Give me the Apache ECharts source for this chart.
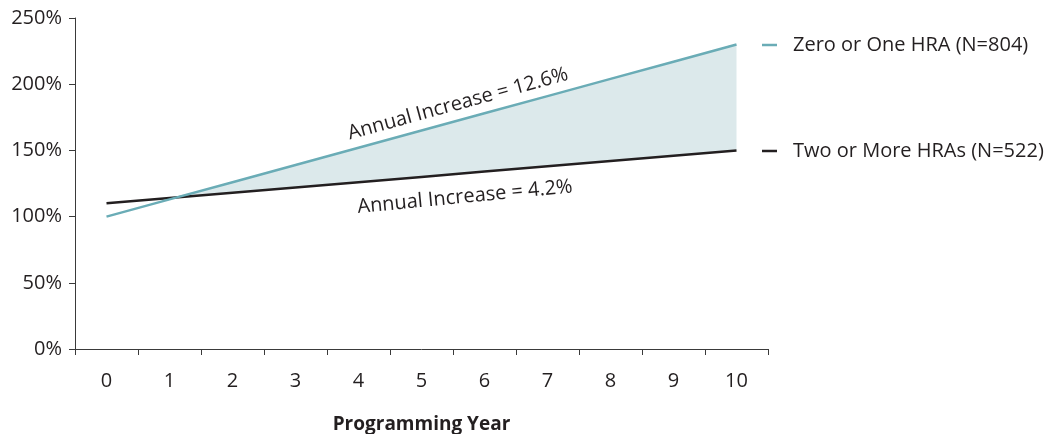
<!DOCTYPE html>
<html>
<head>
<meta charset="utf-8">
<script src="https://cdn.jsdelivr.net/npm/echarts@6/dist/echarts.min.js"></script>
<style>
  html, body { margin: 0; padding: 0; background: #fff; }
  #chart { width: 1064px; height: 434px; }
</style>
</head>
<body>
<div id="chart"></div>
<script>
// data
var years = ['0', '1', '2', '3', '4', '5', '6', '7', '8', '9', '10'];
var zeroOrOne = [100, 113, 126, 139, 152, 165, 178, 191, 204, 217, 230];
var twoOrMore = [110, 114, 118, 122, 126, 130, 134, 138, 142, 146, 150];
var yTicks = [0, 50, 100, 150, 200, 250];

var nameA = 'Zero or One HRA (N=804)';
var nameB = 'Two or More HRAs (N=522)';

// gap between the two lines, only where the teal line is on top
var gap = zeroOrOne.map(function (v, i) {
    return Math.max(v - twoOrMore[i], 0);
});

var font = '"Open Sans", Lato, sans-serif';
var ink = '#231f20';
var axisColor = '#3a3a3a';

var dom = document.getElementById('chart');
var myChart = echarts.init(dom);
var option = {
    animation: false,
    textStyle: { fontFamily: font },
    grid: { left: 75, right: 296, top: 18, bottom: 85, outerBoundsMode: 'none', containLabel: false },
    legend: [
        {
            data: [nameA],
            left: 762, top: 35, padding: 0,
            icon: 'rect', itemWidth: 15, itemHeight: 2.5,
            textStyle: { fontSize: 20, color: ink, fontFamily: font, padding: [0, 0, 0, 11] }
        },
        {
            data: [nameB],
            left: 762, top: 141, padding: 0,
            icon: 'rect', itemWidth: 15, itemHeight: 2.5,
            textStyle: { fontSize: 20, color: ink, fontFamily: font, padding: [0, 0, 0, 11] }
        }
    ],
    xAxis: {
        type: 'category',
        data: years,
        boundaryGap: true,
        name: 'Programming Year',
        nameLocation: 'middle',
        nameGap: 66,
        nameTextStyle: { fontSize: 19, fontWeight: 'bold', color: ink, fontFamily: font },
        axisLine: { show: true, lineStyle: { color: axisColor, width: 1 } },
        axisTick: { show: true, length: 6, lineStyle: { color: axisColor } },
        axisLabel: { fontSize: 20, color: ink, margin: 22, fontFamily: font },
        splitLine: { show: false }
    },
    yAxis: {
        type: 'value',
        min: 0,
        max: 250,
        interval: 50,
        axisLine: { show: true, lineStyle: { color: axisColor, width: 1 } },
        axisTick: { show: true, length: 6, lineStyle: { color: axisColor } },
        axisLabel: {
            fontSize: 20, color: ink, margin: 13, fontFamily: font,
            formatter: function (v) { return yTicks.indexOf(v) >= 0 ? v + '%' : ''; }
        },
        splitLine: { show: false }
    },
    series: [
        {
            name: 'base',
            type: 'line',
            data: twoOrMore,
            stack: 'fill',
            symbol: 'none',
            silent: true,
            lineStyle: { opacity: 0 },
            z: 1
        },
        {
            name: 'gap',
            type: 'line',
            data: gap,
            stack: 'fill',
            symbol: 'none',
            silent: true,
            lineStyle: { opacity: 0 },
            areaStyle: { color: '#dce9eb', opacity: 1 },
            z: 1
        },
        {
            name: nameB,
            type: 'line',
            data: twoOrMore,
            symbol: 'none',
            color: ink,
            lineStyle: { color: ink, width: 2.5 },
            z: 3
        },
        {
            name: nameA,
            type: 'line',
            data: zeroOrOne,
            symbol: 'none',
            color: '#6aacb6',
            lineStyle: { color: '#6aacb6', width: 2.5 },
            z: 4
        }
    ],
    graphic: [
        {
            type: 'text',
            x: 458, y: 104,
            rotation: 15.3 * Math.PI / 180,
            style: {
                text: 'Annual Increase = 12.6%',
                font: '20px ' + font,
                fill: ink,
                align: 'center',
                verticalAlign: 'middle'
            }
        },
        {
            type: 'text',
            x: 465, y: 197,
            rotation: 5.5 * Math.PI / 180,
            style: {
                text: 'Annual Increase = 4.2%',
                font: '20px ' + font,
                fill: ink,
                align: 'center',
                verticalAlign: 'middle'
            }
        }
    ]
};
if (option && typeof option === 'object') {
    myChart.setOption(option, true);
}
window.addEventListener('resize', function () {
    myChart.resize();
});
</script>
</body>
</html>
